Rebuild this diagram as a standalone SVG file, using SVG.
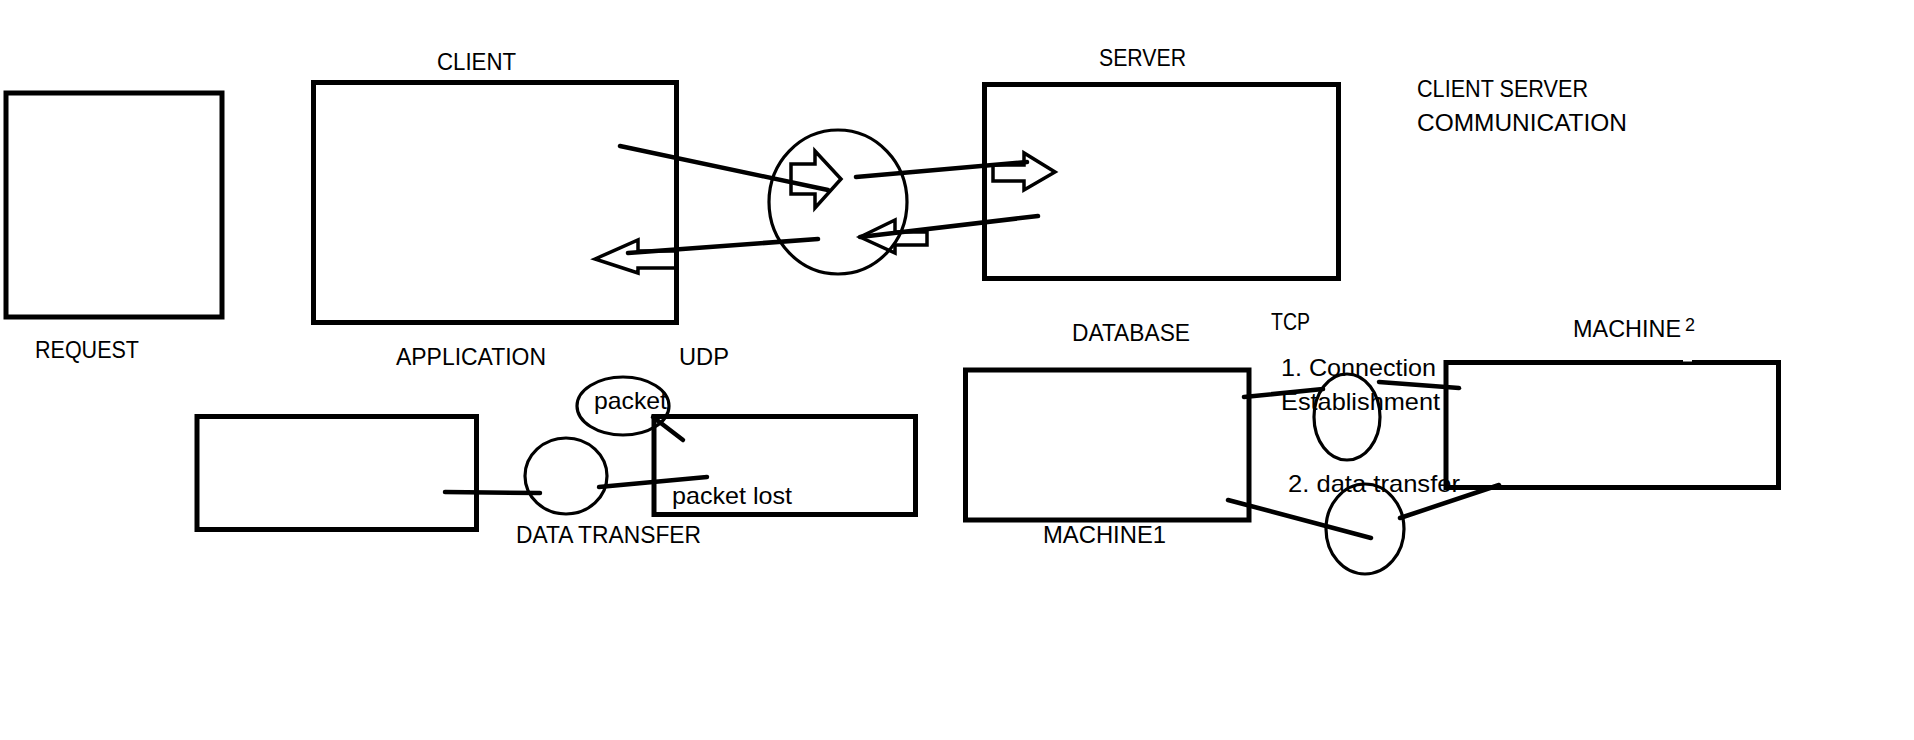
<svg xmlns="http://www.w3.org/2000/svg" width="1914" height="740" viewBox="0 0 1914 740">
<style>
.box{fill:none;stroke:#000;stroke-width:5}
.ell{fill:none;stroke:#000;stroke-width:3.2}
.ln{fill:none;stroke:#000;stroke-width:4.5;stroke-linecap:round}
.blk{fill:none;stroke:#000;stroke-width:3.5;stroke-linejoin:miter}
text{font-family:"Liberation Sans",Arial,sans-serif;font-size:24px;fill:#000}
.sup{font-size:18px}
</style>
<rect width="1914" height="740" fill="#fff"/>
<g id="request">
<rect class="box" x="6" y="93" width="216" height="224"/>
<text x="35" y="358" textLength="104" lengthAdjust="spacingAndGlyphs">REQUEST</text>
</g>
<g id="client">
<rect class="box" x="313.5" y="82.5" width="363" height="240"/>
<text x="437" y="70" textLength="79" lengthAdjust="spacingAndGlyphs">CLIENT</text>
<text x="396" y="365" textLength="150" lengthAdjust="spacingAndGlyphs">APPLICATION</text>
</g>
<g id="network">
<ellipse class="ell" cx="838" cy="202" rx="69" ry="72"/>
</g>
<g id="server">
<rect class="box" x="984.5" y="84.5" width="354" height="194"/>
<text x="1099" y="66" textLength="87" lengthAdjust="spacingAndGlyphs">SERVER</text>
</g>
<g id="title">
<text x="1417" y="97" textLength="171" lengthAdjust="spacingAndGlyphs">CLIENT SERVER</text>
<text x="1417" y="130.5" textLength="210" lengthAdjust="spacingAndGlyphs">COMMUNICATION</text>
</g>
<g id="udp-sender">
<rect class="box" x="197" y="416.5" width="279.5" height="113"/>
</g>
<g id="udp-label">
<text x="679" y="365" textLength="50" lengthAdjust="spacingAndGlyphs">UDP</text>
</g>
<g id="packet">
<ellipse class="ell" cx="623" cy="406" rx="46" ry="29"/>
<text x="594" y="409" textLength="73" lengthAdjust="spacingAndGlyphs">packet</text>
</g>
<g id="data-transfer">
<ellipse class="ell" cx="566" cy="476" rx="41" ry="38"/>
<text x="516" y="543" textLength="185" lengthAdjust="spacingAndGlyphs">DATA TRANSFER</text>
</g>
<g id="udp-receiver">
<rect class="box" x="654" y="416.5" width="261.5" height="98"/>
<text x="672" y="504" textLength="120" lengthAdjust="spacingAndGlyphs">packet lost</text>
</g>
<g id="machine1">
<rect class="box" x="965.5" y="370" width="283.5" height="150"/>
<text x="1072" y="341" textLength="118" lengthAdjust="spacingAndGlyphs">DATABASE</text>
<text x="1043" y="543" textLength="123" lengthAdjust="spacingAndGlyphs">MACHINE1</text>
</g>
<g id="tcp-label">
<text x="1271" y="330" textLength="39" lengthAdjust="spacingAndGlyphs">TCP</text>
</g>
<g id="tcp-connection">
<ellipse class="ell" cx="1347" cy="417" rx="33" ry="43"/>
<text x="1281" y="376" textLength="155" lengthAdjust="spacingAndGlyphs">1. Connection</text>
<text x="1281" y="410" textLength="159" lengthAdjust="spacingAndGlyphs">Establishment</text>
</g>
<g id="tcp-data">
<ellipse class="ell" cx="1365" cy="529" rx="39" ry="45"/>
<text x="1288" y="492" textLength="172" lengthAdjust="spacingAndGlyphs">2. data transfer</text>
</g>
<g id="machine2">
<rect class="box" x="1446" y="362.5" width="332.5" height="125"/>
<rect x="1683" y="359" width="9" height="2.5" fill="#fff"/>
<text x="1573" y="337" textLength="108" lengthAdjust="spacingAndGlyphs">MACHINE</text>
<text class="sup" x="1685" y="331">2</text>
</g>
<g id="connectors">
<line class="ln" x1="620" y1="146" x2="828" y2="190"/>
<polygon class="blk" points="791,164 815,164 815,151 841,179 815,208 815,194 791,194"/>
<line class="ln" x1="856" y1="177" x2="1027" y2="162"/>
<polygon class="blk" points="993,165 1024,165 1024,153 1055,172 1024,190 1024,181 993,181"/>
<line class="ln" x1="1038" y1="216" x2="860" y2="237"/>
<polygon class="blk" points="860,237 895,220 895,232 927,232 927,245 895,245 895,253"/>
<line class="ln" x1="818" y1="239" x2="628" y2="253"/>
<polygon class="blk" points="595,259 638,240 638,251 677,251 677,268 638,268 638,273"/>
<line class="ln" x1="445" y1="492" x2="540" y2="493"/>
<line class="ln" x1="599" y1="487" x2="707" y2="477"/>
<line class="ln" x1="683" y1="440" x2="653" y2="417"/>
<line class="ln" x1="1244" y1="397" x2="1323" y2="389"/>
<line class="ln" x1="1379" y1="382" x2="1459" y2="388"/>
<line class="ln" x1="1228" y1="500" x2="1371" y2="538"/>
<line class="ln" x1="1400" y1="518" x2="1499" y2="485"/>
</g>
</svg>
